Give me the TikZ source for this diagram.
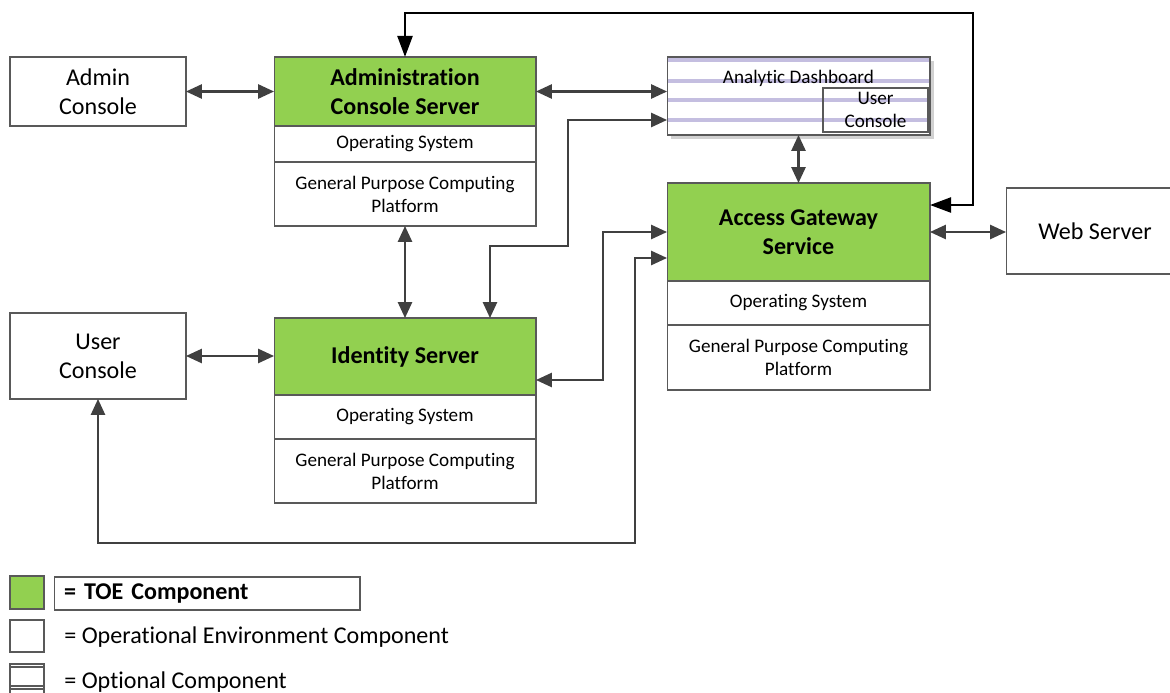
\documentclass[tikz,border=0pt]{standalone}
\usepackage{fontspec}
\setmainfont{Carlito}[Ligatures=NoCommon]
\usetikzlibrary{arrows.meta}
\definecolor{toegreen}{RGB}{146,208,80}
\definecolor{linegray}{RGB}{64,64,64}
\definecolor{optlav}{RGB}{196,190,224}

\begin{document}
\begin{tikzpicture}[x=0.02cm, y=-0.02cm,
  box/.style={draw=black!65, line width=0.6pt, fill=white, inner sep=2pt, outer sep=0pt, align=center, font=\fontsize{13.7}{16.5}\selectfont},
  toe/.style={box, fill=toegreen, font=\fontsize{13.7}{16.5}\selectfont\bfseries},
  layer/.style={box, font=\fontsize{10.9}{13}\selectfont},
  link/.style={linegray, line width=1.2pt, {Triangle[length=9pt,width=8pt]}-{Triangle[length=9pt,width=8pt]}},
  mgmt/.style={black, line width=1.5pt, {Triangle[length=12pt,width=8.5pt]}-{Triangle[length=12pt,width=8.5pt]}}]
\useasboundingbox (0,0) rectangle (1170,693);

%the admin side
\node[box, minimum width=3.52cm, minimum height=1.38cm] (adminc) at (98,91.5) {Admin\\Console};
\node[toe, minimum width=5.24cm, minimum height=1.38cm] (acs) at (405,91.5) {Administration\\Console Server};
\node[layer, minimum width=5.24cm, minimum height=0.72cm] (acsos) at (405,144) {Operating System};
\node[layer, minimum width=5.24cm, minimum height=1.28cm] (acshw) at (405,194) {General Purpose Computing\\Platform};

%the dashboard (optional)
\fill[black!18] (671,61) rectangle (934,139);
\node[box, minimum width=5.26cm, minimum height=1.56cm] (dash) at (798.5,96) {};
\foreach \y in {60,81,100,120}
  \draw[optlav, line width=1.8pt] (668,\y) -- (929,\y);
\node[font=\fontsize{10.9}{13}\selectfont, inner sep=0pt] (dashlbl) at (798.5,78) {Analytic Dashboard};
\node[box, fill=none, font=\fontsize{10.9}{13}\selectfont, minimum width=2.1cm, minimum height=0.88cm, inner sep=0pt] (dashuc) at (875.5,110) {User\\Console};

%the gateway
\node[toe, minimum width=5.26cm, minimum height=1.96cm] (ags) at (798.5,232) {Access Gateway\\Service};
\node[layer, minimum width=5.26cm, minimum height=0.88cm] (agsos) at (798.5,303) {Operating System};
\node[layer, minimum width=5.26cm, minimum height=1.3cm] (agshw) at (798.5,357.5) {General Purpose Computing\\Platform};
\node[box, minimum width=3.56cm, minimum height=1.72cm] (web) at (1095,231) {Web Server};

%the identity side
\node[box, minimum width=3.52cm, minimum height=1.72cm] (userc) at (98,356) {User\\Console};
\node[toe, minimum width=5.24cm, minimum height=1.54cm] (ids) at (405,356.5) {Identity Server};
\node[layer, minimum width=5.24cm, minimum height=0.88cm] (idsos) at (405,417) {Operating System};
\node[layer, minimum width=5.24cm, minimum height=1.28cm] (idshw) at (405,471) {General Purpose Computing\\Platform};

%the connections
\draw[link] (adminc.east) -- (adminc.east -| acs.west);
\draw[link] (acs.east) -- (acs.east -| dash.west);
\draw[link] ([xshift=1.7cm]ids.north) |- (568,246) |- ([yshift=-0.48cm]dash.west);
\draw[link] (acshw.south) -- (ids.north);
\draw[link] (dash.south) -- (ags.north);
\draw[link] (userc.east) -- (userc.east -| ids.west);
\draw[link] ([yshift=-0.47cm]ids.east) -| (603,232) -- (ags.west);
\draw[link] (userc.south) |- (635,543) |- ([yshift=-0.52cm]ags.west);
\draw[link] (ags.east) -- (ags.east -| web.west);
\draw[mgmt] ([yshift=0.54cm]ags.east) -| (973,13) -| (acs.north);

%the legend
\node[toe, minimum width=0.68cm, minimum height=0.66cm] (keytoe) at (27,592.5) {};
\node[box, minimum width=6.12cm, minimum height=0.66cm, text width=5.72cm, align=left, font=\fontsize{13.7}{16.5}\selectfont\bfseries] (keytoetxt) at (207,593.5) {= TOE Component};
\node[box, minimum width=0.68cm, minimum height=0.64cm] (keyenv) at (27,636) {};
\node[anchor=west, inner sep=0pt, font=\fontsize{13.7}{16.5}\selectfont] (keyenvtxt) at (64,637) {= Operational Environment Component};
\draw[black!65, line width=0.6pt] (10,693) -- (10,664) -- (44,664) -- (44,693);
\draw[black!65, line width=0.6pt] (10,667) -- (44,667);
\draw[black!65, line width=0.6pt] (10,686) -- (44,686);
\draw[black!65, line width=0.6pt] (10,689) -- (44,689);
\node[anchor=west, inner sep=0pt, font=\fontsize{13.7}{16.5}\selectfont] (keyopttxt) at (64,682) {= Optional Component};
\end{tikzpicture}
\end{document}
